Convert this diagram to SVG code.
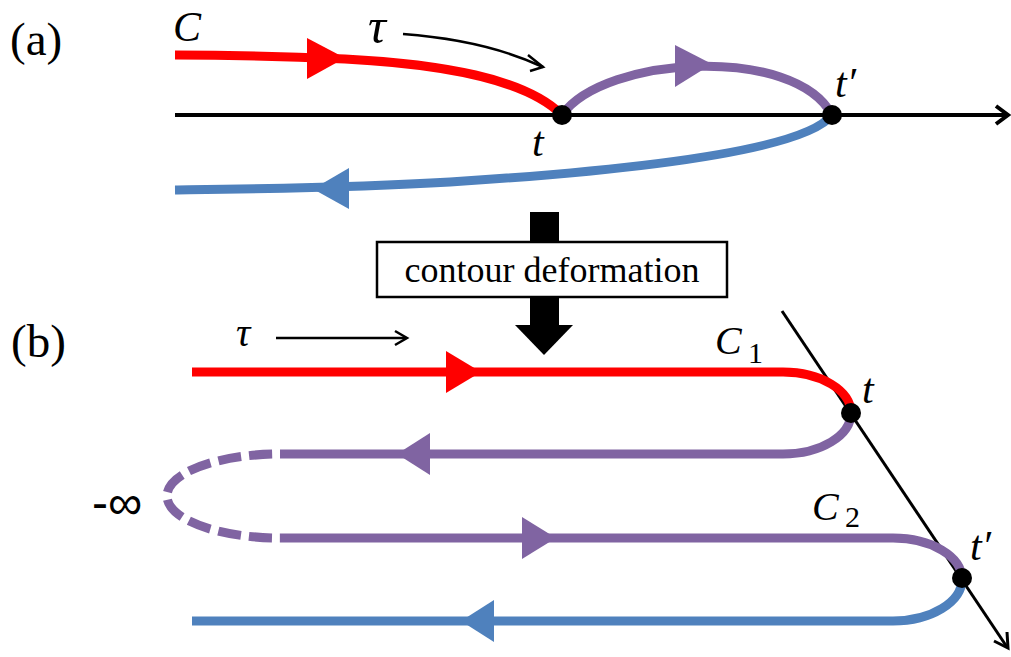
<svg xmlns="http://www.w3.org/2000/svg" width="1011" height="657" viewBox="0 0 1011 657">
<style>
.red{fill:none;stroke:#FF0000;stroke-width:9}
.pur{fill:none;stroke:#8064A2;stroke-width:9}
.blu{fill:none;stroke:#4F81BD;stroke-width:9}
.ax{fill:none;stroke:#000;stroke-width:4}
.thin{fill:none;stroke:#000;stroke-width:2.5;stroke-linejoin:miter}
.rf{fill:#FF0000}.pf{fill:#8064A2}.bf{fill:#4F81BD}
.lbl{font-family:"Liberation Serif",serif;fill:#000}
.m{font-family:"Liberation Serif",serif;font-style:italic;fill:#000}
.sub{font-family:"Liberation Serif",serif;fill:#000}
</style>
<rect width="1011" height="657" fill="#fff"/>
<g id="connectors">
  <!-- (a) -->
  <line class="ax" x1="175" y1="115" x2="1006" y2="115"/>
  <polyline class="ax" points="996,106 1008,115 996,124"/>
  <path class="thin" d="M403,34 Q485,40 543,67"/>
  <polyline class="thin" points="528,55 543,67 530,71"/>
  <path class="red" d="M175,55 C250,55 300,57 345,59 C440,64 525,78 562,115"/>
  <polygon class="rf" points="307,38 307,79 345,58"/>
  <path class="pur" d="M562,115 C605,55 795,45 832,115"/>
  <polygon class="pf" points="675,45 675,87 712,64"/>
  <path class="blu" d="M832,115 C805,150 640,170 450,182 C350,188 250,189 175,190"/>
  <polygon class="bf" points="349,168 349,209 313,189"/>
  <!-- (b) -->
  <line class="thin" x1="276" y1="338" x2="406" y2="338"/>
  <polyline class="thin" points="395,331 407,338 395,345"/>
  <line class="thin" style="stroke-width:3" x1="782" y1="311" x2="1007" y2="647"/>
  <polyline class="thin" style="stroke-width:3" points="1007,632 1008,648 994,641"/>
  <path class="red" d="M192,372 L783,372 A68,41 0 0 1 851,413"/>
  <polygon class="rf" points="446,351 446,393 481,372"/>
  <path class="pur" d="M851,413 A68,41 0 0 1 783,454 L280,454"/>
  <polygon class="pf" points="430,433 430,475 397,454"/>
  <path class="pur" d="M280,454 A113,42 0 0 0 280,538" stroke-dasharray="23 8" stroke-dashoffset="23"/>
  <path class="pur" d="M280,538 L893,538 A69,41 0 0 1 962,579"/>
  <polygon class="pf" points="522,517 522,559 556,538"/>
  <path class="blu" d="M962,579 A69,42 0 0 1 893,621 L192,621"/>
  <polygon class="bf" points="494,600 494,642 461,621"/>
</g>
<g id="deform-arrow">
  <rect x="530" y="212" width="29" height="114" fill="#000"/>
  <polygon points="515,325 573,325 544,355" fill="#000"/>
</g>
<g id="deform-box">
  <rect x="377" y="242" width="350" height="55" fill="#fff" stroke="#000" stroke-width="2.5"/>
  <text class="lbl" x="552" y="282" font-size="36" text-anchor="middle">contour deformation</text>
</g>
<g id="node-t-a"><circle cx="562" cy="115" r="10" fill="#000"/><text class="m" x="532" y="156" font-size="42">t</text></g>
<g id="node-tp-a"><circle cx="832" cy="115" r="10" fill="#000"/><text class="m" x="835" y="97" font-size="42">t′</text></g>
<g id="node-t-b"><circle cx="851" cy="413" r="10" fill="#000"/><text class="m" x="862" y="403" font-size="42">t</text></g>
<g id="node-tp-b"><circle cx="962" cy="578" r="10" fill="#000"/><text class="m" x="970" y="560" font-size="42">t′</text></g>
<g id="labels">
  <text class="lbl" x="10" y="55" font-size="47">(a)</text>
  <text class="lbl" x="11" y="357" font-size="47">(b)</text>
  <text class="m" x="173" y="41" font-size="42">C</text>
  <text class="m" x="368" y="43" font-size="50">τ</text>
  <text class="m" x="236" y="346" font-size="40">τ</text>
  <text class="m" x="715" y="354" font-size="40">C</text>
  <text class="sub" x="748" y="363" font-size="30">1</text>
  <text class="m" x="812" y="520" font-size="40">C</text>
  <text class="sub" x="845" y="527" font-size="30">2</text>
  <text x="92" y="519" font-family="Liberation Sans, sans-serif" font-size="48" fill="#000">-∞</text>
</g>
</svg>
